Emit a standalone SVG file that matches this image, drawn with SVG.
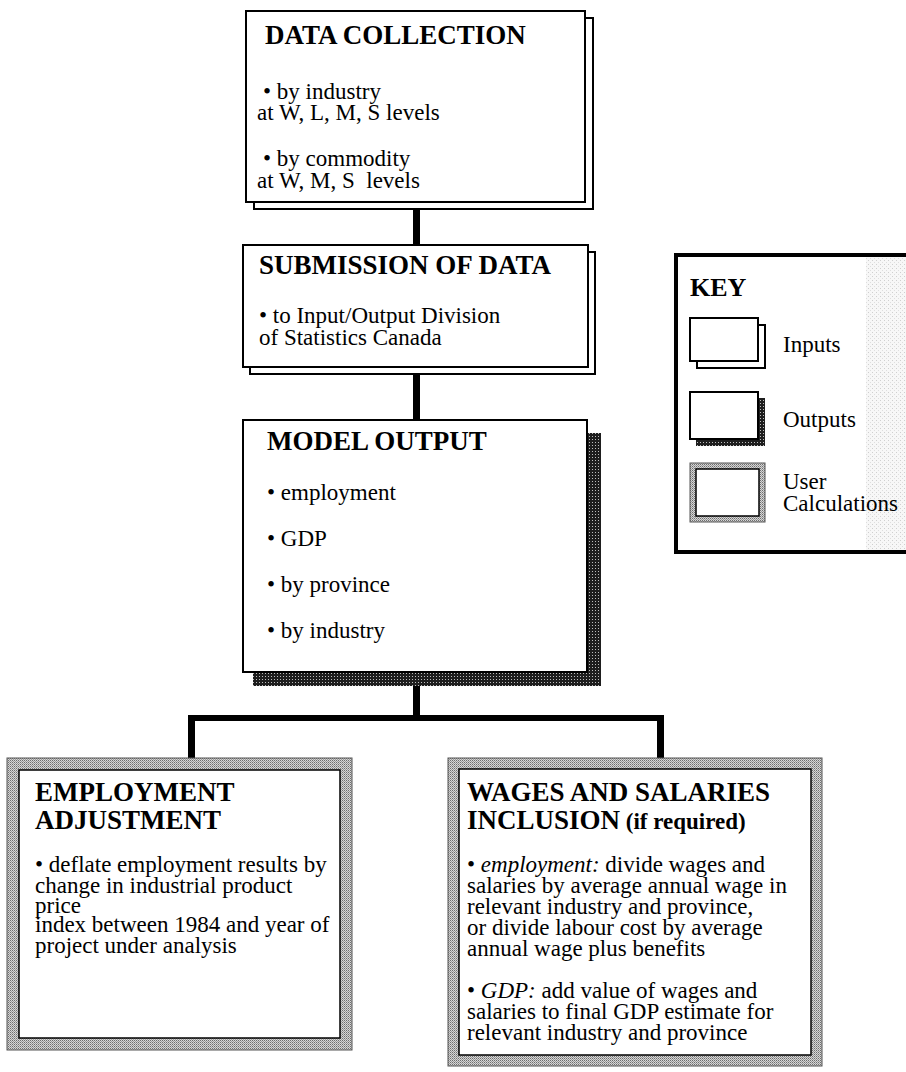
<svg xmlns="http://www.w3.org/2000/svg" width="906" height="1072" viewBox="0 0 906 1072">
<defs>
  <pattern id="dark" width="3" height="3" patternUnits="userSpaceOnUse">
    <rect width="3" height="3" fill="#1e1e1e"/>
    <rect x="1" y="1" width="1" height="1" fill="#bdbdbd"/>
  </pattern>
  <pattern id="grey" width="2" height="2" patternUnits="userSpaceOnUse">
    <rect width="2" height="2" fill="#d6d6d6"/>
    <rect width="1" height="1" fill="#6e6e6e"/>
    <rect x="1" y="1" width="1" height="1" fill="#9a9a9a"/>
  </pattern>
  <pattern id="light" width="4" height="4" patternUnits="userSpaceOnUse">
    <rect width="4" height="4" fill="#f7f7f7"/>
    <rect width="1" height="1" fill="#cfcfcf"/>
    <rect x="2" y="2" width="1" height="1" fill="#dedede"/>
  </pattern>
</defs>
<style>
 text { font-family: "Liberation Serif", "Times New Roman", serif; fill:#000; }
 .t { font-size:27px; font-weight:bold; }
 .ts { font-size:23px; font-weight:bold; }
 .b { font-size:23px; }
 .box { fill:#fff; stroke:#000; stroke-width:2; }
 .inner { fill:#fff; stroke:#000; stroke-width:1.5; }
 .band { fill:url(#grey); stroke:#555; stroke-width:1; }
 .sh { fill:url(#dark); }
 .conn { fill:#000; }
</style>
<rect width="906" height="1072" fill="#fff"/>

<g id="connectors">
  <rect class="conn" x="413" y="209" width="7" height="37"/>
  <rect class="conn" x="413" y="373" width="7" height="48"/>
  <rect class="conn" x="413" y="686" width="7" height="35"/>
  <rect class="conn" x="188" y="715" width="476" height="6"/>
  <rect class="conn" x="188" y="715" width="7" height="44"/>
  <rect class="conn" x="657" y="715" width="7" height="44"/>
</g>

<g id="data-collection">
  <rect class="box" x="254" y="18" width="339" height="191"/>
  <rect class="box" x="246" y="11" width="339" height="191"/>
  <text class="t" x="265" y="44">DATA COLLECTION</text>
  <text class="b" x="263" y="99">• by industry</text>
  <text class="b" x="257" y="120">at W, L, M, S levels</text>
  <text class="b" x="263" y="166">• by commodity</text>
  <text class="b" x="257" y="188">at W, M, S&#160; levels</text>
</g>

<g id="submission">
  <rect class="box" x="250" y="252" width="345" height="122"/>
  <rect class="box" x="243" y="245" width="345" height="122"/>
  <text class="t" x="259" y="274">SUBMISSION OF DATA</text>
  <text class="b" x="259" y="323">• to Input/Output Division</text>
  <text class="b" x="259" y="345">of Statistics Canada</text>
</g>

<g id="model-output">
  <rect class="sh" x="587" y="433" width="14" height="253"/>
  <rect class="sh" x="253" y="672" width="348" height="14"/>
  <rect class="box" x="243" y="420" width="344" height="252"/>
  <text class="t" x="267" y="450">MODEL OUTPUT</text>
  <text class="b" x="267" y="500">• employment</text>
  <text class="b" x="267" y="546">• GDP</text>
  <text class="b" x="267" y="592">• by province</text>
  <text class="b" x="267" y="638">• by industry</text>
</g>

<g id="employment-adjustment">
  <rect class="band" x="7" y="758" width="345" height="292"/>
  <rect class="inner" x="19" y="770" width="321" height="268"/>
  <text class="t" x="35" y="801">EMPLOYMENT</text>
  <text class="t" x="35" y="829">ADJUSTMENT</text>
  <text class="b" x="35" y="872">• deflate employment results by</text>
  <text class="b" x="35" y="893">change in industrial product</text>
  <text class="b" x="35" y="913">price</text>
  <text class="b" x="35" y="932">index between 1984 and year of</text>
  <text class="b" x="35" y="953">project under analysis</text>
</g>

<g id="wages-salaries">
  <rect class="band" x="448" y="758" width="374" height="308"/>
  <rect class="inner" x="459" y="769" width="352" height="286"/>
  <text class="t" x="467" y="801">WAGES AND SALARIES</text>
  <text x="467" y="829"><tspan class="t">INCLUSION</tspan><tspan class="ts"> (if required)</tspan></text>
  <text class="b" x="467" y="872">• <tspan font-style="italic">employment:</tspan> divide wages and</text>
  <text class="b" x="467" y="893">salaries by average annual wage in</text>
  <text class="b" x="467" y="914">relevant industry and province,</text>
  <text class="b" x="467" y="935">or divide labour cost by average</text>
  <text class="b" x="467" y="956">annual wage plus benefits</text>
  <text class="b" x="467" y="998">• <tspan font-style="italic">GDP:</tspan> add value of wages and</text>
  <text class="b" x="467" y="1019">salaries to final GDP estimate for</text>
  <text class="b" x="467" y="1040">relevant industry and province</text>
</g>

<g id="key">
  <rect x="676" y="255" width="240" height="297" fill="#fff" stroke="#000" stroke-width="4"/>
  <rect x="866" y="257" width="40" height="293" fill="url(#light)"/>
  <text class="t" x="690" y="296" style="font-size:26px">KEY</text>
  <rect class="box" x="697" y="325" width="68" height="43"/>
  <rect class="box" x="690" y="318" width="68" height="43"/>
  <text class="b" x="783" y="352">Inputs</text>
  <rect class="sh" x="758" y="398" width="7" height="48"/>
  <rect class="sh" x="696" y="439" width="69" height="7"/>
  <rect class="box" x="690" y="392" width="68" height="47"/>
  <text class="b" x="783" y="427">Outputs</text>
  <rect class="band" x="690" y="463" width="75" height="59"/>
  <rect class="inner" x="696" y="469" width="63" height="47"/>
  <text class="b" x="783" y="489">User</text>
  <text class="b" x="783" y="511">Calculations</text>
</g>
</svg>
